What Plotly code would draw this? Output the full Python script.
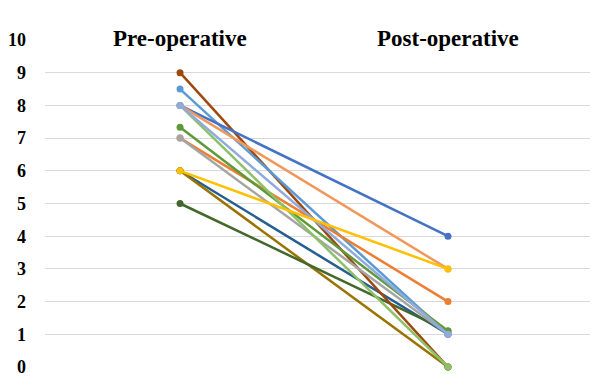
import plotly.graph_objects as go

categories = ["Pre-operative", "Post-operative"]
pre_values = [6, 6, 5, 9, 8.5, 8, 8, 7, 7, 7.33, 8, 8, 6]
post_values = [1, 0, 1.1, 0, 1, 4, 3, 2, 1, 1.1, 0, 1, 3]
colors = ["#255E91", "#997300", "#43682B", "#9E480E", "#5B9BD5", "#4472C4",
          "#F1975A", "#ED7D31", "#A5A5A5", "#5E9A3A", "#8CC168", "#8FAADC", "#FFC000"]

fig = go.Figure()
for pre, post, c in zip(pre_values, post_values, colors):
    fig.add_trace(go.Scatter(
        x=categories, y=[pre, post], mode="lines+markers",
        line=dict(color=c, width=2.5),
        marker=dict(color=c, size=7),
        cliponaxis=False, showlegend=False, hoverinfo="skip"))

for cat in categories:
    fig.add_annotation(x=cat, y=10, text=cat, showarrow=False,
                       font=dict(family="Liberation Serif", size=23, color="#000000", weight=700),
                       yshift=2)

fig.update_layout(
    width=582, height=371,
    margin=dict(l=37, r=0, t=32, b=12),
    paper_bgcolor="white", plot_bgcolor="white",
    xaxis=dict(type="category", range=[-0.504, 1.53], showticklabels=False,
               showgrid=False, zeroline=False, showline=False),
    yaxis=dict(range=[0, 10], dtick=1, showgrid=True, gridcolor="#D9D9D9", gridwidth=1,
               zeroline=False, showline=False, ticklabelstandoff=18,
               tickfont=dict(family="Liberation Serif", size=18, color="#000000", weight=700)),
)

fig.write_html("out.html")
